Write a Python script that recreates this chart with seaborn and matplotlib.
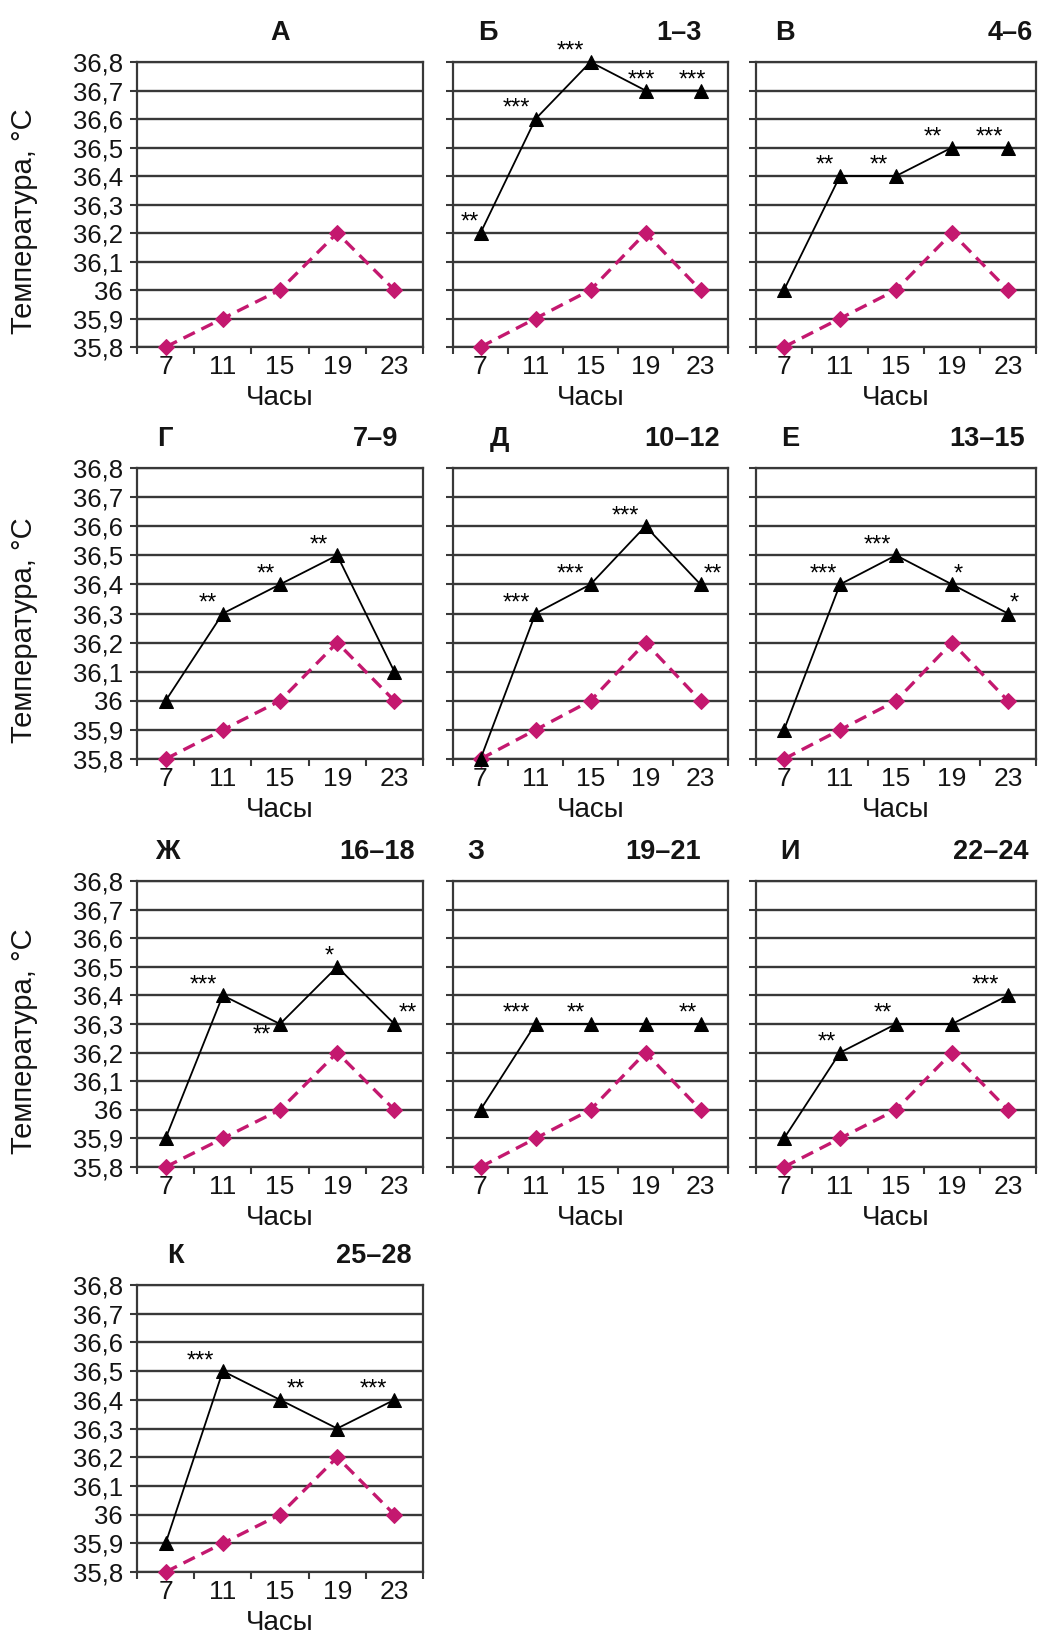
import matplotlib
matplotlib.use("Agg")
import matplotlib.pyplot as plt
import seaborn as sns
import pandas as pd
from matplotlib.ticker import FixedLocator

# ---------------- data ----------------
hours = [7, 11, 15, 19, 23]
hour_labels = ["7", "11", "15", "19", "23"]
y_ticks = [35.8, 35.9, 36.0, 36.1, 36.2, 36.3, 36.4, 36.5, 36.6, 36.7, 36.8]
y_tick_labels = ["35,8", "35,9", "36", "36,1", "36,2", "36,3", "36,4",
                 "36,5", "36,6", "36,7", "36,8"]

control = [35.8, 35.9, 36.0, 36.2, 36.0]

panel_letters = ["А", "Б", "В", "Г", "Д", "Е", "Ж", "З", "И", "К"]
panel_ranges = ["", "1–3", "4–6", "7–9", "10–12", "13–15", "16–18",
                "19–21", "22–24", "25–28"]

temp_B = [36.2, 36.6, 36.8, 36.7, 36.7]
temp_V = [36.0, 36.4, 36.4, 36.5, 36.5]
temp_G = [36.0, 36.3, 36.4, 36.5, 36.1]
temp_D = [35.8, 36.3, 36.4, 36.6, 36.4]
temp_E = [35.9, 36.4, 36.5, 36.4, 36.3]
temp_Zh = [35.9, 36.4, 36.3, 36.5, 36.3]
temp_Z = [36.0, 36.3, 36.3, 36.3, 36.3]
temp_I = [35.9, 36.2, 36.3, 36.3, 36.4]
temp_K = [35.9, 36.5, 36.4, 36.3, 36.4]

stars_B = ["**", "***", "***", "***", "***"]
stars_V = ["", "**", "**", "**", "***"]
stars_G = ["", "**", "**", "**", ""]
stars_D = ["", "***", "***", "***", "**"]
stars_E = ["", "***", "***", "*", "*"]
stars_Zh = ["", "***", "**", "*", "**"]
stars_Z = ["", "***", "**", "", "**"]
stars_I = ["", "**", "**", "", "***"]
stars_K = ["", "***", "**", "", "***"]

test_series = [None, temp_B, temp_V, temp_G, temp_D, temp_E, temp_Zh,
               temp_Z, temp_I, temp_K]
test_stars = [None, stars_B, stars_V, stars_G, stars_D, stars_E, stars_Zh,
              stars_Z, stars_I, stars_K]

# ---------------- layout / style ----------------
W, H = 1038, 1635
col_left = [137, 453, 756]
col_right = [423, 728, 1036]
row_top = [62, 468, 881, 1285]
row_bottom = [347, 759, 1167, 1572]

# star offsets (px) relative to the point
star_dx = [None,
           [-11, -19, -20, -4, -8],
           [0, -15, -17, -19, -19],
           [0, -15, -14, -18, 0],
           [0, -19, -20, -20, 12],
           [0, -17, -19, 6, 6],
           [0, -19, -18, -8, 13],
           [0, -19, -15, 0, -13],
           [0, -13, -13, 0, -23],
           [0, -22, 16, 0, -21]]
star_dy_default = 10
star_dy_special = {(6, 2): -12}

letter_dx = [0, 35, 29, 28, 46, 34, 30, 23, 34, 38]
range_dx = [0, 26, 3, 25, 8, 11, 8, 27, 8, 11]

MAGENTA = "#C4186F"
GRID = "#383838"
TEXT = "#141414"

sns.set_theme(style="white")
plt.rcParams["font.family"] = ["Liberation Sans", "DejaVu Sans"]

fig = plt.figure(figsize=(W / 100, H / 100), dpi=100)
fig.patch.set_facecolor("white")

positions = [(0, 0), (0, 1), (0, 2), (1, 0), (1, 1), (1, 2),
             (2, 0), (2, 1), (2, 2), (3, 0)]

for i, (r, c) in enumerate(positions):
    l, rt = col_left[c], col_right[c]
    t, b = row_top[r], row_bottom[r]
    ax = fig.add_axes([l / W, 1 - b / H, (rt - l) / W, (b - t) / H])
    ax.set_facecolor("white")

    ax.set_xlim(5, 25)
    ax.set_ylim(35.8, 36.8)

    for yv in y_ticks:
        ax.axhline(yv, color=GRID, lw=1.7, zorder=1)
    for s in ax.spines.values():
        s.set_color(GRID)
        s.set_linewidth(1.6)
        s.set_visible(True)

    df_c = pd.DataFrame({"hour": hours, "temp": control})
    sns.lineplot(data=df_c, x="hour", y="temp", ax=ax, color=MAGENTA,
                 linewidth=2.4, linestyle=(0, (3.8, 2.2)), marker="D",
                 markersize=8, markeredgecolor=MAGENTA, clip_on=False,
                 zorder=3)

    if test_series[i] is not None:
        df_t = pd.DataFrame({"hour": hours, "temp": test_series[i]})
        sns.lineplot(data=df_t, x="hour", y="temp", ax=ax, color="black",
                     linewidth=1.3, marker="^", markersize=10,
                     markeredgecolor="black", clip_on=False, zorder=4)
        for j, (hx, yv, st) in enumerate(zip(hours, test_series[i],
                                             test_stars[i])):
            if not st:
                continue
            dy = star_dy_special.get((i, j), star_dy_default)
            ax.annotate(st, (hx, yv), xytext=(star_dx[i][j], dy),
                        textcoords="offset pixels", ha="center",
                        va="center", fontsize=17, color="black", zorder=5,
                        annotation_clip=False)

    ax.xaxis.set_major_locator(FixedLocator(hours))
    ax.set_xticklabels(hour_labels)
    ax.xaxis.set_minor_locator(FixedLocator([5, 9, 13, 17, 21, 25]))
    ax.tick_params(axis="x", which="major", length=0, pad=6, labelsize=19,
                   colors=TEXT)
    ax.tick_params(axis="x", which="minor", length=5, width=1.5,
                   color=GRID, bottom=True, direction="out")
    ax.yaxis.set_major_locator(FixedLocator(y_ticks))
    ax.tick_params(axis="y", which="major", length=5, width=1.5,
                   color=GRID, left=True, direction="out", pad=5,
                   labelsize=18.5, labelcolor=TEXT)
    if c == 0:
        ax.set_yticklabels(y_tick_labels)
    else:
        ax.set_yticklabels([])

    ax.set_xlabel("Часы", fontsize=20, color=TEXT)
    ax.xaxis.set_label_coords(0.5, -51 / (b - t))
    ax.xaxis.label.set_va("center")
    if c == 0 and r < 3:
        ax.set_ylabel("Температура, °C", fontsize=21, color=TEXT)
        ax.yaxis.set_label_coords(-(l - 24) / (rt - l),
                                  0.5 - 17 / (b - t))
        ax.yaxis.label.set_va("center")
    else:
        ax.set_ylabel("")

    ty = 1 - (t - 29) / H
    if panel_ranges[i]:
        fig.text((l + letter_dx[i]) / W, ty, panel_letters[i], ha="center",
                 va="center", fontsize=19.5, fontweight="bold", color=TEXT)
        fig.text((rt - range_dx[i]) / W, ty, panel_ranges[i], ha="right",
                 va="center", fontsize=19.5, fontweight="bold", color=TEXT)
    else:
        fig.text((l + rt) / 2 / W, ty, panel_letters[i], ha="center",
                 va="center", fontsize=19.5, fontweight="bold", color=TEXT)

fig.savefig("out.png", dpi=100, facecolor="white")
